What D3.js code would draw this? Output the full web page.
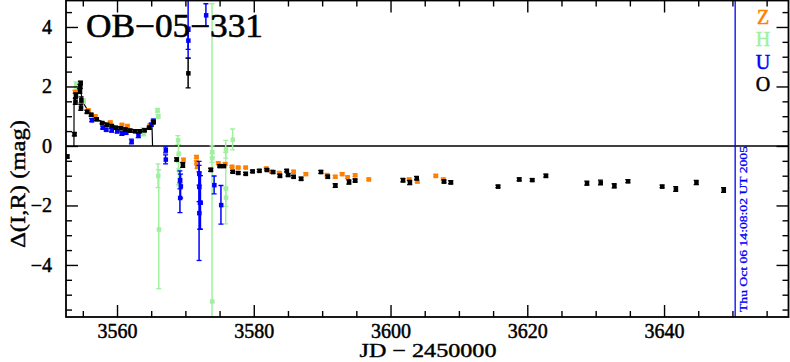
<!DOCTYPE html>
<html>
<head>
<meta charset="utf-8">
<script src="https://cdn.jsdelivr.net/npm/d3@7"></script>
<style>
  body { margin: 0; background: #fff; }
  svg { display: block; }
  text { font-family: "Liberation Serif", "DejaVu Serif", serif; }
</style>
</head>
<body>
<svg id="chart" width="790" height="362"></svg>
<script>

//  Data: JD - 2450000, delta mag, error  (one set of arrays per filter)

var oDay = [3552.7, 3553.75, 3553.9, 3553.95, 3554.55, 3554.6, 3554.65, 3554.7, 3554.75, 3555.6,
            3556.2, 3557.0, 3557.8, 3558.5, 3559.2, 3559.8, 3560.5, 3561.2, 3561.9, 3562.6,
            3563.3, 3564.0, 3564.7, 3565.3, 3568.7, 3569.6, 3570.4, 3573.7, 3575.0, 3575.6,
            3576.9, 3577.7, 3578.8, 3579.8, 3580.8, 3581.9, 3582.8, 3583.8, 3584.8, 3585.0,
            3585.8, 3586.9, 3589.8, 3590.8, 3591.9, 3593.9, 3594.8, 3601.8, 3602.8, 3603.8,
            3607.8, 3608.8, 3615.7, 3618.8, 3620.7, 3622.7, 3628.7, 3630.7, 3632.7, 3634.7,
            3639.7, 3641.7, 3644.7, 3648.7];
var oMag = [-0.35, 0.40, 1.50, 1.70, 1.85, 2.00, 2.12, 1.30, 1.55, 1.15,
            1.05, 0.90, 0.78, 0.72, 0.68, 0.62, 0.60, 0.56, 0.52, 0.50,
            0.50, 0.53, 0.62, 0.80, -0.45, -0.64, 2.45, -0.80, -0.67, -0.67,
            -0.86, -0.90, -0.93, -0.85, -0.83, -0.80, -0.87, -1.00, -0.83, -0.97,
            -1.03, -1.10, -0.87, -1.03, -1.33, -1.21, -1.16, -1.15, -1.23, -1.08,
            -1.19, -1.22, -1.36, -1.12, -1.14, -1.00, -1.25, -1.23, -1.34, -1.18,
            -1.36, -1.45, -1.23, -1.48];
var oErr = [0.05, 0.06, 0.10, 0.08, 0.08, 0.07, 0.06, 0.10, 0.10, 0.05,
            0.05, 0.04, 0.04, 0.04, 0.04, 0.04, 0.04, 0.04, 0.04, 0.04,
            0.04, 0.04, 0.05, 0.05, 0.05, 0.08, 0.50, 0.05, 0.04, 0.04,
            0.04, 0.04, 0.04, 0.04, 0.04, 0.04, 0.04, 0.05, 0.04, 0.04,
            0.04, 0.05, 0.05, 0.05, 0.06, 0.07, 0.05, 0.06, 0.07, 0.06,
            0.05, 0.05, 0.04, 0.05, 0.04, 0.05, 0.07, 0.08, 0.07, 0.05,
            0.04, 0.08, 0.07, 0.08];

var zDay = [3553.85, 3555.8, 3556.8, 3559.0, 3560.7, 3561.5, 3564.8, 3569.7, 3571.6, 3571.6,
            3571.7, 3574.8, 3575.8, 3576.8, 3577.7, 3578.8, 3581.8, 3582.6, 3583.7, 3585.8,
            3587.6, 3590.7, 3591.9, 3592.9, 3593.7, 3594.8, 3596.8, 3602.7, 3603.9, 3606.6,
            3607.7];
var zMag = [1.82, 1.20, 1.00, 0.80, 0.72, 0.68, 0.70, -0.47, -0.37, -0.55,
            -0.70, -0.58, -0.60, -0.69, -0.72, -0.72, -0.75, -0.86, -0.90, -0.86,
            -0.94, -0.97, -1.03, -0.94, -1.05, -0.98, -1.12, -1.12, -1.19, -1.00,
            -1.12];
var zErr = [0.05, 0.04, 0.04, 0.03, 0.03, 0.03, 0.03, 0.06, 0.05, 0.05,
            0.05, 0.04, 0.04, 0.03, 0.03, 0.03, 0.03, 0.04, 0.04, 0.04,
            0.04, 0.04, 0.04, 0.04, 0.04, 0.04, 0.04, 0.04, 0.04, 0.04,
            0.04];

var uDay = [3556.3, 3557.9, 3558.4, 3559.2, 3560.0, 3560.7, 3561.3, 3562.1, 3563.1, 3565.0,
            3565.3, 3567.1, 3567.1, 3569.2, 3569.3, 3569.2, 3570.4, 3570.4, 3572.0, 3572.0,
            3572.1, 3572.0, 3572.2, 3573.0, 3574.2, 3575.2];
var uMag = [0.87, 0.62, 0.55, 0.53, 0.50, 0.42, 0.45, 0.15, 0.35, 0.72,
            0.85, -0.13, -0.45, -1.14, -1.35, -1.74, 3.95, 3.55, -0.92, -1.37,
            -1.90, -2.25, -1.90, 4.40, -1.31, -1.98];
var uErr = [0.05, 0.05, 0.05, 0.06, 0.06, 0.06, 0.06, 0.08, 0.07, 0.05,
            0.05, 0.10, 0.15, 0.30, 0.40, 0.50, 1.00, 0.30, 0.40, 0.50,
            0.90, 1.60, 0.90, 0.38, 0.30, 0.65];

var hDay = [3554.0, 3554.1, 3555.1, 3563.8, 3563.9, 3565.9, 3566.0, 3566.0, 3566.1, 3568.9,
            3569.0, 3569.0, 3569.1, 3573.9, 3573.9, 3573.9, 3575.9, 3575.9, 3575.9, 3576.9];
var hMag = [2.05, 1.85, 1.50, 0.55, 0.42, 1.20, 1.00, -1.00, -2.80, 0.20,
            -0.25, -0.80, -1.14, -0.20, -0.40, -5.22, -0.11, -1.42, -1.73, 0.22];
var hErr = [0.10, 0.10, 0.08, 0.06, 0.08, 0.06, 0.06, 0.40, 2.00, 0.15,
            0.30, 0.50, 0.20, 0.20, 0.15, 10.0, 0.30, 1.20, 0.30, 0.35];

//  model curve through the caustic crossing
var modelDay = [3553.7, 3553.72, 3553.9, 3554.2, 3554.5, 3554.8, 3555.2, 3555.7, 3556.5, 3557.5,
                3558.5, 3559.5, 3560.5, 3561.5, 3562.5, 3563.5, 3564.2, 3564.8, 3565.1, 3565.2];
var modelMag = [0.00, 1.50, 1.75, 2.00, 2.10, 1.70, 1.40, 1.20, 1.00, 0.85,
                0.75, 0.68, 0.62, 0.58, 0.55, 0.55, 0.58, 0.66, 0.80, 0.00];

var xMajor = [3560, 3580, 3600, 3620, 3640];
var yMajor = [-4, -2, 0, 2, 4];
var legendNames = ['Z', 'H', 'U', 'O'];
var legendColors = ['#ff8000', '#a0f0a0', '#0000ff', '#000000'];
var stampText = 'Thu Oct 06 14:08:02 UT 2005';
var stampDay = 3650.4;

//  plot box (names chosen so they do not clash with window.top etc.)

var box = { l: 66, r: 788.5, t: 0.5, b: 317 };

var x = d3.scaleLinear().domain([3552.54, 3658.2]).range([box.l, box.r]);
var y = d3.scaleLinear().domain([-5.75, 4.89]).range([box.b, box.t]);

var svg = d3.select('#chart');

svg.append('clipPath').attr('id', 'plotClip')
    .append('rect')
    .attr('x', box.l).attr('y', box.t)
    .attr('width', box.r - box.l).attr('height', box.b - box.t);

function series(days, mags, errs, color) {
    return days.map(function(d, i) {
        return { day: d, mag: mags[i], err: errs[i], color: color };
    });
}

var points = [].concat(
    series(hDay, hMag, hErr, legendColors[1]),
    series(zDay, zMag, zErr, legendColors[0]),
    series(uDay, uMag, uErr, legendColors[2]),
    series(oDay, oMag, oErr, legendColors[3])
);

var plot = svg.append('g').attr('clip-path', 'url(#plotClip)');

//  zero line
plot.append('line')
    .attr('x1', box.l).attr('x2', box.r)
    .attr('y1', y(0)).attr('y2', y(0))
    .attr('stroke', '#000').attr('stroke-width', 1.5);

//  date stamp line
plot.append('line')
    .attr('x1', x(stampDay)).attr('x2', x(stampDay))
    .attr('y1', box.t).attr('y2', box.b)
    .attr('stroke', '#0000ff').attr('stroke-width', 1.3);

//  model
var modelLine = d3.line()
    .x(function(d) { return x(d[0]); })
    .y(function(d) { return y(d[1]); });

plot.append('path')
    .datum(modelDay.map(function(d, i) { return [d, modelMag[i]]; }))
    .attr('d', modelLine)
    .attr('fill', 'none')
    .attr('stroke', '#000')
    .attr('stroke-width', 1.2);

//  error bars
var bars = plot.selectAll('g.pt').data(points).enter().append('g').attr('class', 'pt');

bars.append('line')
    .attr('x1', function(d) { return x(d.day); })
    .attr('x2', function(d) { return x(d.day); })
    .attr('y1', function(d) { return y(d.mag + d.err); })
    .attr('y2', function(d) { return y(d.mag - d.err); })
    .attr('stroke', function(d) { return d.color; })
    .attr('stroke-width', 1.5);

bars.selectAll('line.cap')
    .data(function(d) { return [{ d: d, m: d.mag + d.err }, { d: d, m: d.mag - d.err }]; })
    .enter().append('line')
    .attr('class', 'cap')
    .attr('x1', function(c) { return x(c.d.day) - 2.5; })
    .attr('x2', function(c) { return x(c.d.day) + 2.5; })
    .attr('y1', function(c) { return y(c.m); })
    .attr('y2', function(c) { return y(c.m); })
    .attr('stroke', function(c) { return c.d.color; })
    .attr('stroke-width', 1.3);

bars.append('rect')
    .attr('x', function(d) { return x(d.day) - 2; })
    .attr('y', function(d) { return y(d.mag) - 2; })
    .attr('width', 4.5).attr('height', 4.5)
    .attr('fill', function(d) { return d.color; });

//  axes, ticks inward on all four sides

function minorTicks(lo, hi, step, skip) {
    var out = [];
    for (var v = lo; v <= hi + 1e-9; v += step) {
        var r = Math.round(v * 100) / 100;
        if (skip.indexOf(r) < 0) out.push(r);
    }
    return out;
}

var xMinor = minorTicks(3555, 3655, 5, xMajor);
var yMinor = minorTicks(-5.5, 4.5, 0.5, yMajor);

function styleAxis(g) {
    g.select('.domain').remove();
    g.selectAll('.tick line').attr('stroke', '#000').attr('stroke-width', 1.4);
    g.selectAll('.tick text')
        .attr('font-size', 20)
        .attr('fill', '#000')
        .attr('stroke', '#000')
        .attr('stroke-width', 0.5)
        .style('font-family', '"Liberation Serif", serif');
}

svg.append('g').attr('transform', 'translate(0,' + box.b + ')')
    .call(d3.axisBottom(x).tickValues(xMajor).tickSize(-12).tickPadding(7).tickFormat(d3.format('d')))
    .call(styleAxis);
svg.append('g').attr('transform', 'translate(0,' + box.b + ')')
    .call(d3.axisBottom(x).tickValues(xMinor).tickSize(-6).tickFormat(''))
    .call(styleAxis);
svg.append('g').attr('transform', 'translate(0,' + box.t + ')')
    .call(d3.axisTop(x).tickValues(xMajor).tickSize(-12).tickFormat(''))
    .call(styleAxis);
svg.append('g').attr('transform', 'translate(0,' + box.t + ')')
    .call(d3.axisTop(x).tickValues(xMinor).tickSize(-6).tickFormat(''))
    .call(styleAxis);

svg.append('g').attr('transform', 'translate(' + box.l + ',0)')
    .call(d3.axisLeft(y).tickValues(yMajor).tickSize(-12).tickPadding(14)
        .tickFormat(function(d) { return d < 0 ? '\u2212' + Math.abs(d) : d; }))
    .call(styleAxis);
svg.append('g').attr('transform', 'translate(' + box.l + ',0)')
    .call(d3.axisLeft(y).tickValues(yMinor).tickSize(-6).tickFormat(''))
    .call(styleAxis);
svg.append('g').attr('transform', 'translate(' + box.r + ',0)')
    .call(d3.axisRight(y).tickValues(yMajor).tickSize(-12).tickFormat(''))
    .call(styleAxis);
svg.append('g').attr('transform', 'translate(' + box.r + ',0)')
    .call(d3.axisRight(y).tickValues(yMinor).tickSize(-6).tickFormat(''))
    .call(styleAxis);

//  frame
svg.append('rect')
    .attr('x', box.l).attr('y', box.t)
    .attr('width', box.r - box.l).attr('height', box.b - box.t)
    .attr('fill', 'none').attr('stroke', '#000').attr('stroke-width', 1.8);

//  labels
svg.append('text')
    .attr('x', 428).attr('y', 357)
    .attr('text-anchor', 'middle')
    .attr('font-size', 19)
    .attr('textLength', 137)
    .attr('lengthAdjust', 'spacingAndGlyphs')
    .attr('stroke', '#000').attr('stroke-width', 0.4)
    .text('JD \u2212 2450000');

svg.append('text')
    .attr('transform', 'translate(25,184) rotate(-90)')
    .attr('text-anchor', 'middle')
    .attr('font-size', 21)
    .attr('textLength', 128)
    .attr('lengthAdjust', 'spacingAndGlyphs')
    .attr('stroke', '#000').attr('stroke-width', 0.4)
    .text('\u0394(I,R) (mag)');

svg.append('text')
    .attr('x', 86).attr('y', 37)
    .attr('font-size', 33)
    .attr('textLength', 177)
    .attr('lengthAdjust', 'spacingAndGlyphs')
    .attr('stroke', '#000').attr('stroke-width', 0.6)
    .text('OB\u221205\u2212331');

//  legend
svg.selectAll('text.legend').data(legendNames).enter().append('text')
    .attr('class', 'legend')
    .attr('x', 763)
    .attr('y', function(d, i) { return 24 + i * 22.3; })
    .attr('text-anchor', 'middle')
    .attr('font-size', 20)
    .attr('fill', function(d, i) { return legendColors[i]; })
    .attr('stroke', function(d, i) { return legendColors[i]; })
    .attr('stroke-width', 0.5)
    .text(function(d) { return d; });

//  date stamp
svg.append('text')
    .attr('transform', 'translate(' + (x(stampDay) + 12) + ',312) rotate(-90)')
    .attr('font-size', 11)
    .attr('fill', '#0000ff')
    .attr('stroke', '#0000ff')
    .attr('stroke-width', 0.3)
    .attr('textLength', 166)
    .attr('lengthAdjust', 'spacingAndGlyphs')
    .text(stampText);

</script>
</body>
</html>
